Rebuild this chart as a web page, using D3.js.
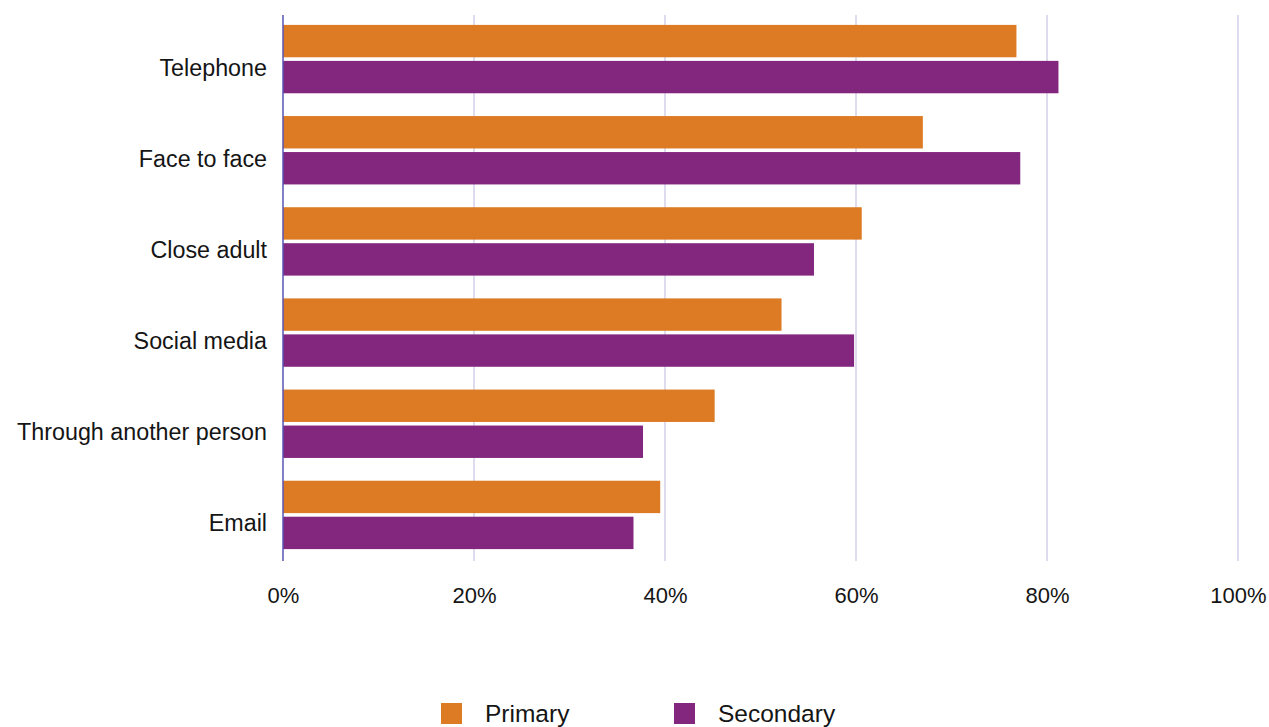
<!DOCTYPE html>
<html>
<head>
<meta charset="utf-8">
<script src="https://cdn.jsdelivr.net/npm/d3@7"></script>
<style>
  html, body { margin: 0; padding: 0; background: #ffffff; }
  svg { display: block; font-family: "Liberation Sans", Arial, sans-serif; }
</style>
</head>
<body>
<svg id="chart" width="1269" height="727"></svg>
<script>
// Contact channels and share of respondents by school phase
const categories = ["Telephone", "Face to face", "Close adult", "Social media", "Through another person", "Email"];
const seriesNames = ["Primary", "Secondary"];
const primary = [76.8, 67.0, 60.6, 52.2, 45.2, 39.5];
const secondary = [81.2, 77.2, 55.6, 59.8, 37.7, 36.7];
const tickValues = [0, 20, 40, 60, 80, 100];
const colors = ["#dd7b24", "#83267e"];

const rows = categories.map((c, i) => ({ category: c, values: [primary[i], secondary[i]] }));

const svg = d3.select("#chart");
const plot = { left: 283, right: 1238, top: 13.5, bottom: 560.5 };

const x = d3.scaleLinear().domain([0, 100]).range([plot.left, plot.right]);
const y = d3.scaleBand().domain(categories).range([plot.top, plot.bottom]).paddingInner(0.25).paddingOuter(0.125);
const ySub = d3.scaleBand().domain(seriesNames).range([0, y.bandwidth()]).paddingInner(0.1);

// vertical gridlines
svg.append("g")
  .selectAll("line")
  .data(tickValues.filter(d => d > 0))
  .join("line")
  .attr("x1", d => x(d)).attr("x2", d => x(d))
  .attr("y1", 15).attr("y2", 561)
  .attr("stroke", "#d3d1e8").attr("stroke-width", 1.5);

// bars
const groups = svg.append("g")
  .selectAll("g")
  .data(rows)
  .join("g")
  .attr("transform", d => `translate(0,${y(d.category)})`);

groups.selectAll("rect")
  .data(d => d.values.map((v, i) => ({ key: seriesNames[i], value: v, i })))
  .join("rect")
  .attr("x", x(0))
  .attr("y", d => ySub(d.key))
  .attr("width", d => x(d.value) - x(0))
  .attr("height", ySub.bandwidth())
  .attr("fill", d => colors[d.i]);

// zero axis line
svg.append("line")
  .attr("x1", x(0)).attr("x2", x(0))
  .attr("y1", 15).attr("y2", 561)
  .attr("stroke", "#5a55b5").attr("stroke-width", 1.5);

// category labels, sitting slightly below each group's centre
const yAxis = d3.axisLeft(y).tickSize(0).tickPadding(16);
const gy = svg.append("g").attr("transform", `translate(${x(0)},9)`).call(yAxis);
gy.select(".domain").remove();
gy.selectAll("text")
  .attr("font-size", 23.3)
  .attr("fill", "#151515")
  .attr("font-family", "Liberation Sans, Arial, sans-serif");

// percentage axis labels
const xAxis = d3.axisBottom(x).tickValues(tickValues).tickFormat(d => d + "%").tickSize(0).tickPadding(0);
const gx = svg.append("g").attr("transform", `translate(0,587)`).call(xAxis);
gx.select(".domain").remove();
gx.selectAll("text")
  .attr("font-size", 22)
  .attr("fill", "#151515")
  .attr("font-family", "Liberation Sans, Arial, sans-serif");

// legend
const legendX = [441, 674];
const legend = svg.append("g")
  .selectAll("g")
  .data(seriesNames)
  .join("g")
  .attr("transform", (d, i) => `translate(${legendX[i]},703)`);
legend.append("rect")
  .attr("width", 21).attr("height", 21)
  .attr("fill", (d, i) => colors[i]);
legend.append("text")
  .attr("x", 44).attr("y", 19)
  .attr("font-size", 24.5)
  .attr("fill", "#151515")
  .text(d => d);
</script>
</body>
</html>
